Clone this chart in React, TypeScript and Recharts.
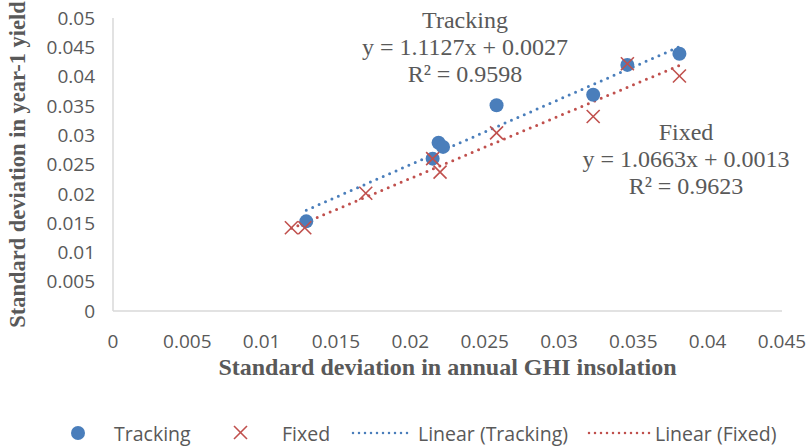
import React from 'react';
import { ScatterChart, Scatter, XAxis, YAxis } from 'recharts';

// values
const trackingX = [0.013, 0.0215, 0.0219, 0.0222, 0.0258, 0.0323, 0.0346, 0.0381];
const trackingY = [0.0153, 0.026, 0.0287, 0.028, 0.0351, 0.0369, 0.042, 0.0439];
const fixedX = [0.012, 0.0129, 0.017, 0.0215, 0.022, 0.0258, 0.0323, 0.0346, 0.0381];
const fixedY = [0.0142, 0.0142, 0.0201, 0.026, 0.0237, 0.0304, 0.0332, 0.0422, 0.0401];

// trendline end points (Excel linear fits)
const trackingTrendX = [0.013, 0.0381];
const trackingTrendY = [0.0172, 0.0451];
const fixedTrendX = [0.012, 0.0381];
const fixedTrendY = [0.0141, 0.0419];

const xTicks = [0, 0.005, 0.01, 0.015, 0.02, 0.025, 0.03, 0.035, 0.04, 0.045];
const yTicks = [0, 0.005, 0.01, 0.015, 0.02, 0.025, 0.03, 0.035, 0.04, 0.045, 0.05];

const trackingLabel = ['Tracking', 'y = 1.1127x + 0.0027', 'R² = 0.9598'];
const fixedLabel = ['Fixed', 'y = 1.0663x + 0.0013', 'R² = 0.9623'];
const legendNames = ['Tracking', 'Fixed', 'Linear (Tracking)', 'Linear (Fixed)'];

const BLUE = '#4A7EBB';
const RED = '#C0504D';
const TEXT = '#595959';
const AXIS = '#D9D9D9';
const SANS = '"Open Sans", sans-serif';
const SERIF = '"Liberation Serif", "Times New Roman", serif';

const zip = (xs: number[], ys: number[]) => xs.map((x, i) => ({ x, y: ys[i] }));

const trackingData = zip(trackingX, trackingY);
const fixedData = zip(fixedX, fixedY);
const trackingTrend = zip(trackingTrendX, trackingTrendY);
const fixedTrend = zip(fixedTrendX, fixedTrendY);

const Dot = (props: any) => <circle cx={props.cx} cy={props.cy} r={7} fill={BLUE} />;

const Cross = (props: any) => {
  const { cx, cy } = props;
  const s = 6.5;
  return (
    <g stroke={RED} strokeWidth={1.6}>
      <line x1={cx - s} y1={cy - s} x2={cx + s} y2={cy + s} />
      <line x1={cx - s} y1={cy + s} x2={cx + s} y2={cy - s} />
    </g>
  );
};

const Nothing = () => <g />;

const tickStyle = { fill: TEXT, fontSize: 19, fontFamily: SANS };

const dotted = (color: string) => ({
  stroke: color,
  strokeWidth: 3,
  strokeDasharray: '0 7',
  strokeLinecap: 'round' as const,
});

const Annotation = ({ lines, x, y }: { lines: string[]; x: number; y: number }) => (
  <text x={x} y={y} textAnchor="middle" fill={TEXT} fontFamily={SERIF} fontSize={24}>
    {lines.map((l, i) => (
      <tspan key={i} x={x} dy={i === 0 ? 0 : 27}>
        {l}
      </tspan>
    ))}
  </text>
);

// icon box for each legend entry: left edge and width (text follows the box)
const legendBoxes = [
  { left: 70, width: 44 },
  { left: 230, width: 52 },
  { left: 350, width: 68 },
  { left: 586, width: 69 },
];

const Legend = () => (
  <div style={{ position: 'absolute', left: 0, top: 420, width: 808, height: 26 }}>
    {legendNames.map((name, i) => (
      <div
        key={name}
        style={{
          position: 'absolute',
          left: legendBoxes[i].left,
          top: 0,
          display: 'flex',
          alignItems: 'center',
          height: 26,
          fontFamily: SANS,
          fontSize: 19.5,
          color: TEXT,
          whiteSpace: 'nowrap',
        }}
      >
        <svg width={legendBoxes[i].width} height={26}>
          {i === 0 && <circle cx={8} cy={13} r={7} fill={BLUE} />}
          {i === 1 && (
            <g stroke={RED} strokeWidth={1.6}>
              <line x1={4} y1={6} x2={17} y2={19} />
              <line x1={4} y1={19} x2={17} y2={6} />
            </g>
          )}
          {i >= 2 && (
            <line
              x1={3}
              y1={13}
              x2={legendBoxes[i].width - 5}
              y2={13}
              {...dotted(i === 2 ? BLUE : RED)}
              strokeWidth={2.5}
              strokeDasharray="0 6"
            />
          )}
        </svg>
        <span>{name}</span>
      </div>
    ))}
  </div>
);

const App = () => {
  return (
    <div style={{ position: 'absolute', left: 0, top: 0, width: 808, height: 448, background: '#fff' }}>
      <ScatterChart width={808} height={448} margin={{ top: 18, right: 26, left: 0, bottom: 0 }}>
        <XAxis
          type="number"
          dataKey="x"
          domain={[0, 0.045]}
          ticks={xTicks}
          interval={0}
          axisLine={{ stroke: AXIS, strokeWidth: 1.5 }}
          tickLine={false}
          tickSize={0}
          tickMargin={24}
          tick={tickStyle}
          height={137}
          label={{
            value: 'Standard deviation in annual GHI insolation',
            position: 'insideTop',
            offset: 47,
            style: { fill: TEXT, fontFamily: SERIF, fontWeight: 'bold', fontSize: 24 },
          }}
        />
        <YAxis
          type="number"
          dataKey="y"
          domain={[0, 0.05]}
          ticks={yTicks}
          interval={0}
          axisLine={{ stroke: AXIS, strokeWidth: 1.5 }}
          tickLine={false}
          tickSize={0}
          tickMargin={18}
          tick={tickStyle}
          width={113}
          label={{
            value: 'Standard deviation in year-1 yield',
            angle: -90,
            position: 'insideLeft',
            offset: 17,
            style: { fill: TEXT, fontFamily: SERIF, fontWeight: 'bold', fontSize: 22.5, textAnchor: 'middle' },
          }}
        />
        <Scatter data={trackingTrend} line={dotted(BLUE)} shape={Nothing} isAnimationActive={false} />
        <Scatter data={fixedTrend} line={dotted(RED)} shape={Nothing} isAnimationActive={false} />
        <Scatter data={trackingData} shape={Dot} isAnimationActive={false} />
        <Scatter data={fixedData} shape={Cross} isAnimationActive={false} />
      </ScatterChart>
      <svg width={808} height={448} style={{ position: 'absolute', left: 0, top: 0, pointerEvents: 'none' }}>
        <Annotation lines={trackingLabel} x={465} y={28} />
        <Annotation lines={fixedLabel} x={686} y={140} />
      </svg>
      <Legend />
    </div>
  );
};

export default App;
